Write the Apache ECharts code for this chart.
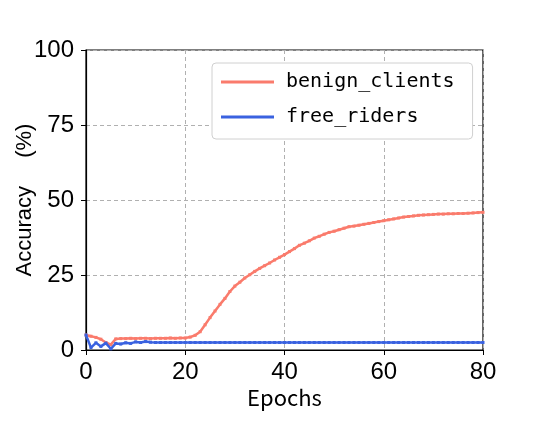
<!DOCTYPE html>
<html>
<head>
<meta charset="utf-8">
<script src="https://cdn.jsdelivr.net/npm/echarts@6/dist/echarts.min.js"></script>
<style>
  html, body { margin: 0; padding: 0; background: #fff; }
  #chart { width: 535px; height: 436px; }
</style>
</head>
<body>
<div id="chart"></div>
<script>
// accuracy per epoch (0..80)
const benignClients = [
  5.0, 4.6, 4.2, 3.6, 2.5, 1.8, 3.7, 3.8, 3.8, 3.9,
  3.8, 3.9, 3.9, 3.8, 3.9, 3.9, 3.9, 4.0, 3.9, 4.0,
  4.0, 4.3, 4.9, 6.1, 8.4, 10.8, 13.0, 15.2, 17.2, 19.5,
  21.3, 22.6, 24.0, 25.1, 26.2, 27.2, 28.1, 29.0, 30.0, 30.9,
  31.8, 32.8, 33.8, 34.9, 35.6, 36.4, 37.3, 37.9, 38.6, 39.2,
  39.6, 40.1, 40.6, 41.1, 41.3, 41.6, 41.9, 42.2, 42.5, 42.8,
  43.1, 43.4, 43.7, 44.0, 44.3, 44.5, 44.7, 44.9, 45.0, 45.1,
  45.2, 45.3, 45.3, 45.4, 45.4, 45.5, 45.5, 45.6, 45.7, 45.8,
  45.9
]
const freeRiders = [
  5.0, 0.8, 2.4, 1.2, 2.3, 0.4, 2.2, 2.0, 2.4, 2.2,
  2.7, 2.5, 2.8, 2.6, 2.5, 2.5, 2.5, 2.5, 2.5, 2.5,
  2.5, 2.5, 2.5, 2.5, 2.5, 2.5, 2.5, 2.5, 2.5, 2.5,
  2.5, 2.5, 2.5, 2.5, 2.5, 2.5, 2.5, 2.5, 2.5, 2.5,
  2.5, 2.5, 2.5, 2.5, 2.5, 2.5, 2.5, 2.5, 2.5, 2.5,
  2.5, 2.5, 2.5, 2.5, 2.5, 2.5, 2.5, 2.5, 2.5, 2.5,
  2.5, 2.5, 2.5, 2.5, 2.5, 2.5, 2.5, 2.5, 2.5, 2.5,
  2.5, 2.5, 2.5, 2.5, 2.5, 2.5, 2.5, 2.5, 2.5, 2.5,
  2.5
]
const seriesNames = ['benign_clients', 'free_riders']

function withEpochs(arr) {
  return arr.map((v, i) => [i, v])
}

const chart = echarts.init(document.getElementById('chart'))
const tickFont = { color: '#000', fontSize: 24, fontFamily: 'Liberation Sans, Arial, sans-serif' }
const gridLine = { show: true, lineStyle: { color: '#b0b0b0', type: [4, 3], width: 1 } }

chart.setOption({
  backgroundColor: '#fff',
  animation: false,
  grid: {
    left: 86,
    right: 52,
    top: 50,
    bottom: 86,
    containLabel: false,
    outerBoundsMode: 'none',
    show: true,
    borderColor: '#000',
    borderWidth: 1.2
  },
  legend: {
    orient: 'vertical',
    left: 212,
    top: 63,
    padding: [9, 18, 12, 9],
    itemGap: 15,
    itemWidth: 53,
    itemHeight: 3,
    icon: 'rect',
    backgroundColor: '#fff',
    borderColor: '#d0d0d0',
    borderWidth: 1,
    borderRadius: 4,
    textStyle: {
      fontSize: 20,
      fontFamily: 'DejaVu Sans Mono, monospace',
      color: '#000',
      padding: [0, 0, 0, 7]
    },
    data: seriesNames
  },
  xAxis: {
    type: 'value',
    min: 0,
    max: 80,
    interval: 20,
    name: 'Epochs',
    nameLocation: 'middle',
    nameGap: 37,
    nameMoveOverlap: false,
    nameTextStyle: { fontSize: 22, color: '#000', fontFamily: 'Noto Sans CJK SC, sans-serif' },
    axisLine: { show: true, onZero: false, lineStyle: { color: '#000', width: 1.2 } },
    axisTick: { show: true, inside: false, length: 5, lineStyle: { color: '#000' } },
    axisLabel: Object.assign({ margin: 10 }, tickFont),
    splitLine: gridLine
  },
  yAxis: {
    type: 'value',
    min: 0,
    max: 100,
    interval: 25,
    name: 'Accuracy\u3000 (%)',
    nameLocation: 'middle',
    nameGap: 50,
    nameMoveOverlap: false,
    nameTextStyle: { fontSize: 22, color: '#000', fontFamily: 'Liberation Sans, Arial, sans-serif' },
    axisLine: { show: true, lineStyle: { color: '#000', width: 1.2 } },
    axisTick: { show: true, inside: false, length: 5, lineStyle: { color: '#000' } },
    axisLabel: Object.assign({ margin: 12 }, tickFont),
    splitLine: gridLine
  },
  series: [
    {
      name: seriesNames[0],
      type: 'line',
      data: withEpochs(benignClients),
      symbol: 'rect',
      symbolSize: 3,
      showSymbol: true,
      itemStyle: { color: '#fa7b6c' },
      lineStyle: { color: '#fa7b6c', width: 2.5 },
      z: 3
    },
    {
      name: seriesNames[1],
      type: 'line',
      data: withEpochs(freeRiders),
      symbol: 'rect',
      symbolSize: 3,
      showSymbol: true,
      itemStyle: { color: '#3a62e0' },
      lineStyle: { color: '#3a62e0', width: 2.5 },
      z: 4
    }
  ]
})
</script>
</body>
</html>
